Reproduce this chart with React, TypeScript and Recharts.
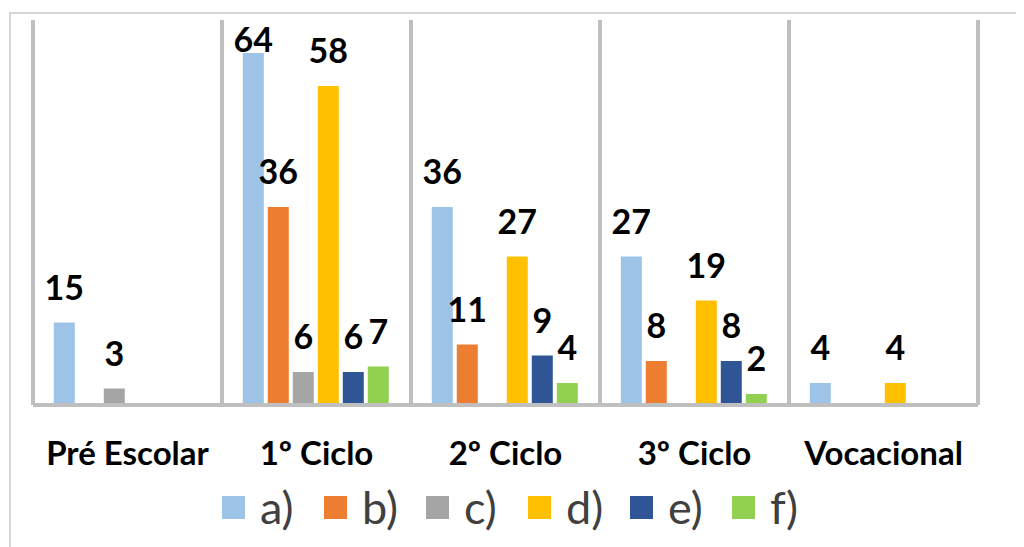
import React from 'react';
import { BarChart, Bar, XAxis, YAxis, CartesianGrid, Legend, LabelList } from 'recharts';

const categories = ['Pré Escolar', '1º Ciclo', '2º Ciclo', '3º Ciclo', 'Vocacional'];
const seriesA = [15, 64, 36, 27, 4];
const seriesB = [0, 36, 11, 8, 0];
const seriesC = [3, 6, 0, 0, 0];
const seriesD = [0, 58, 27, 19, 4];
const seriesE = [0, 6, 9, 8, 0];
const seriesF = [0, 7, 4, 2, 0];
const seriesNames = ['a)', 'b)', 'c)', 'd)', 'e)', 'f)'];
const seriesKeys = ['a', 'b', 'c', 'd', 'e', 'f'];
const seriesColors = ['#9DC3E6', '#ED7D31', '#A5A5A5', '#FFC000', '#2F5597', '#92D050'];
const seriesValues = [seriesA, seriesB, seriesC, seriesD, seriesE, seriesF];

const data = categories.map((cat, i) => {
  const row: Record<string, string | number> = { name: cat };
  seriesKeys.forEach((k, s) => {
    row[k] = seriesValues[s][i];
  });
  return row;
});

const FONT = 'Lato, "Open Sans", sans-serif';

const ValueLabel = (props: any) => {
  const { x, y, width, value } = props;
  if (!value) return null;
  const baseline = Math.max(Number(y) - 23, 44);
  return (
    <text
      x={Number(x) + Number(width) / 2}
      y={baseline}
      textAnchor="middle"
      fontFamily={FONT}
      fontWeight={700}
      fontSize={34}
      fill="#000"
    >
      {value}
    </text>
  );
};

const LegendContent = () => (
  <div style={{ display: 'flex', alignItems: 'center', fontFamily: FONT }}>
    {seriesNames.map((n, i) => (
      <div key={n} style={{ width: 102, display: 'flex', alignItems: 'center' }}>
        <div style={{ width: 23, height: 23, background: seriesColors[i], marginRight: 15, flexShrink: 0 }} />
        <span style={{ fontSize: 45, color: '#404040', lineHeight: '48px' }}>{n}</span>
      </div>
    ))}
  </div>
);

export default function App() {
  return (
    <div style={{ position: 'relative', width: 1016, height: 539, overflow: 'hidden', background: '#fff' }}>
      <div
        style={{
          position: 'absolute',
          left: 1,
          top: 4,
          width: 1200,
          height: 800,
          border: '2px solid #d6d6d6',
          boxSizing: 'border-box',
        }}
      />
      <div style={{ position: 'absolute', left: 0, top: 0 }}>
        <BarChart
          width={1016}
          height={539}
          data={data}
          margin={{ top: 12, right: 46, left: 25, bottom: 82 }}
          barCategoryGap="11%"
          barGap={4}
        >
          <CartesianGrid
            horizontal={false}
            vertical={true}
            stroke="#bfbfbf"
            strokeWidth={4}
            verticalCoordinatesGenerator={({ offset }: any) =>
              categories.concat(['']).map((_, i) => offset.left + (i * offset.width) / categories.length)
            }
          />
          <XAxis
            dataKey="name"
            height={60}
            axisLine={{ stroke: '#bfbfbf', strokeWidth: 4 }}
            tickLine={false}
            tickSize={0}
            tickMargin={37}
            tick={{ fontFamily: FONT, fontWeight: 700, fontSize: 33, fill: '#000' }}
            interval={0}
          />
          <YAxis hide domain={[0, 70]} />
          <Legend
            layout="horizontal"
            verticalAlign="middle"
            align="center"
            wrapperStyle={{ top: 475, left: 214, width: 660 }}
            content={<LegendContent />}
          />
          {seriesKeys.map((k, i) => (
            <Bar key={k} dataKey={k} name={seriesNames[i]} fill={seriesColors[i]} isAnimationActive={false}>
              <LabelList dataKey={k} content={<ValueLabel />} />
            </Bar>
          ))}
        </BarChart>
      </div>
    </div>
  );
}
